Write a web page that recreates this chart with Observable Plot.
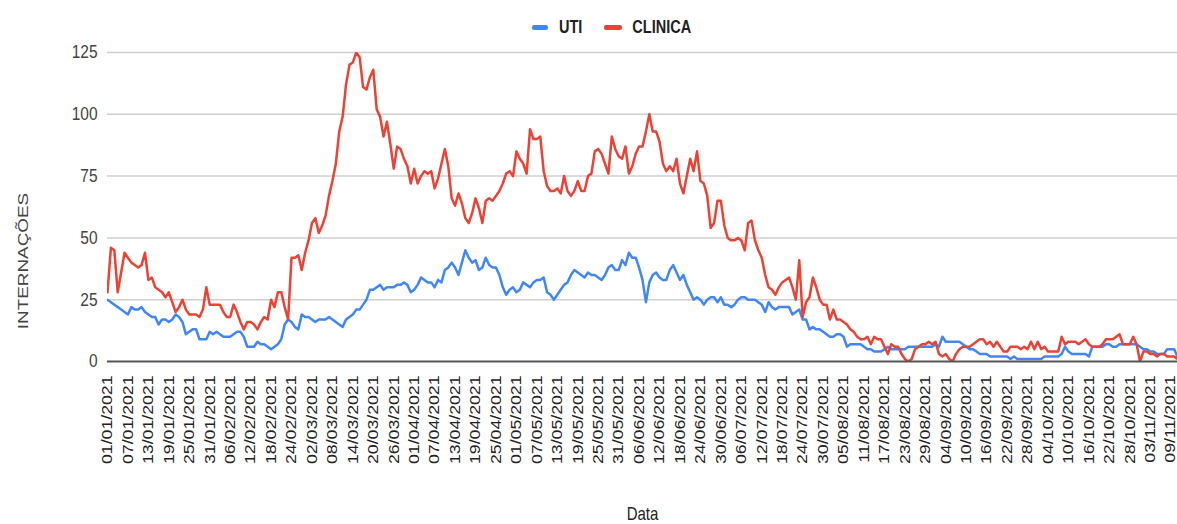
<!DOCTYPE html>
<html><head><meta charset="utf-8">
<script src="https://cdn.jsdelivr.net/npm/d3@7"></script>
<script src="https://cdn.jsdelivr.net/npm/@observablehq/plot@0.6"></script>
<style>
body{margin:0;background:#fff;font-family:"Liberation Sans",Arial,sans-serif;}
#wrap{position:relative;width:1177px;height:524px;overflow:hidden;background:#fff;}
#chart{position:absolute;left:0;top:0;}
#legend{position:absolute;left:532px;top:19px;display:flex;align-items:center;font-weight:bold;font-size:14.5px;color:#222;z-index:2;}
#legend .sw{display:inline-block;height:5px;border-radius:2px;}
#legend .lab{display:inline-block;transform:scaleY(1.25);line-height:16px;}
</style></head><body>
<div id="wrap"><div id="chart"></div><div id="legend"></div></div>
<script>
const startDate = "2021-01-01";
const seriesNames = ["UTI", "CLINICA"];
const seriesColors = ["#4285F4", "#EA4335"];
const yTicks = [0, 25, 50, 75, 100, 125];
const tickLabels = [
  "01/01/2021","07/01/2021","13/01/2021","19/01/2021","25/01/2021","31/01/2021",
  "06/02/2021","12/02/2021","18/02/2021","24/02/2021",
  "02/03/2021","08/03/2021","14/03/2021","20/03/2021","26/03/2021",
  "01/04/2021","07/04/2021","13/04/2021","19/04/2021","25/04/2021",
  "01/05/2021","07/05/2021","13/05/2021","19/05/2021","25/05/2021","31/05/2021",
  "06/06/2021","12/06/2021","18/06/2021","24/06/2021","30/06/2021",
  "06/07/2021","12/07/2021","18/07/2021","24/07/2021","30/07/2021",
  "05/08/2021","11/08/2021","17/08/2021","23/08/2021","29/08/2021",
  "04/09/2021","10/09/2021","16/09/2021","22/09/2021","28/09/2021",
  "04/10/2021","10/10/2021","16/10/2021","22/10/2021","28/10/2021",
  "03/11/2021","09/11/2021"
];
// daily values from 01/01/2021
const utiValues = [
  25,24,23,22,21,20,19,22,21,21,
  22,20,19,18,18,15,17,17,16,17,
  19,18,16,11,12,13,13,9,9,9,
  12,11,12,11,10,10,10,11,12,12,
  10,6,6,6,8,7,7,6,5,6,
  7,9,15,17,16,14,13,19,18,18,
  17,16,17,17,17,18,17,16,15,14,
  17,18,19,21,21,23,25,29,29,30,
  31,29,30,30,30,31,31,32,31,28,
  29,31,34,33,32,32,30,33,32,37,
  38,40,38,35,40,45,42,40,41,37,
  38,42,39,38,38,35,30,27,29,30,
  28,29,32,31,30,32,33,33,34,28,
  27,25,27,29,31,32,35,37,36,35,
  34,36,35,35,34,33,35,38,39,37,
  37,41,39,44,42,42,38,33,24,32,
  35,36,34,33,33,37,39,36,33,35,
  31,28,25,26,25,23,25,26,26,24,
  26,23,23,22,23,25,26,26,25,25,
  25,24,23,20,24,22,21,22,22,22,
  22,19,20,21,17,17,13,14,13,13,
  12,11,10,10,11,11,10,6,7,7,
  7,7,6,5,5,4,4,4,5,6,
  5,5,5,5,5,6,6,6,6,6,
  6,6,6,7,6,10,8,8,8,8,
  8,7,6,5,5,4,3,3,3,2,
  2,2,2,2,2,1,2,1,1,1,
  1,1,1,1,1,2,2,2,2,2,
  3,6,4,3,3,3,3,3,2,6,
  6,6,6,7,7,6,6,7,7,7,
  7,7,7,6,5,5,4,4,3,3,
  3,5,5,5,2
];
const clinicaValues = [
  28,46,45,28,36,44,42,40,39,38,
  39,44,33,34,30,29,28,26,28,24,
  20,22,25,21,19,19,19,18,21,30,
  23,23,23,23,20,18,18,23,20,16,
  13,16,16,15,13,16,18,17,25,22,
  28,28,22,17,42,42,43,37,44,49,
  56,58,52,55,59,67,73,80,93,99,
  112,120,121,125,123,111,110,115,118,102,
  99,91,97,88,78,87,86,82,79,72,
  78,72,75,77,76,77,70,74,80,86,
  79,66,63,68,64,58,56,60,66,62,
  56,65,66,65,67,69,72,76,77,75,
  85,82,80,76,94,90,90,91,77,71,
  69,69,70,68,75,69,67,69,73,69,
  69,75,76,85,86,84,80,76,91,86,
  83,82,87,76,79,84,87,87,93,100,
  93,93,89,80,77,79,77,82,72,68,
  75,82,77,85,73,72,67,54,56,65,
  65,55,50,49,49,50,49,45,56,57,
  49,45,42,35,30,29,27,30,32,33,
  34,30,25,41,18,24,26,34,30,25,
  23,23,17,21,17,17,16,15,13,12,
  10,9,9,10,7,10,9,9,6,3,
  7,6,6,3,1,0,1,5,6,7,
  7,8,7,8,3,2,3,1,0,3,
  5,6,6,6,7,8,9,9,7,8,
  6,8,6,4,4,6,6,6,5,6,
  5,8,5,8,5,6,4,4,4,4,
  10,7,8,8,8,7,8,9,7,6,
  6,6,7,9,9,9,10,11,7,7,
  7,10,7,0,4,4,3,3,2,3,
  3,2,2,2,1
];

const t0 = d3.utcParse("%Y-%m-%d")(startDate);
const parseTick = d3.utcParse("%d/%m/%Y");
const fmtTick = d3.utcFormat("%d/%m/%Y");
const tickDates = tickLabels.map(parseTick);
const rows = [];
[utiValues, clinicaValues].forEach((vals, s) => {
  vals.forEach((v, i) => rows.push({date: d3.utcDay.offset(t0, i), value: v, serie: seriesNames[s]}));
});
const font = "Liberation Sans, Arial, sans-serif";

const chart = Plot.plot({
  width: 1177, height: 524,
  marginLeft: 107, marginRight: 0, marginTop: 52, marginBottom: 163,
  style: {fontFamily: font, background: "#fff", overflow: "visible"},
  x: {type: "utc", domain: [t0, d3.utcDay.offset(t0, 314)]},
  y: {domain: [0, 125]},
  color: {domain: seriesNames, range: seriesColors},
  marks: [
    Plot.ruleY(yTicks.filter(d => d > 0), {stroke: "#cfcfcf", strokeWidth: 1.5}),
    Plot.axisY({ticks: yTicks, tickSize: 0, tickPadding: 10, fontSize: 15.5, color: "#444",
      label: "INTERNAÇÕES", labelAnchor: "center", labelOffset: 91, labelArrow: "none"}),
    Plot.axisX({ticks: tickDates, tickFormat: fmtTick, tickRotate: -90, tickSize: 0, tickPadding: 14,
      fontSize: 15, color: "#222", label: "Data", labelAnchor: "center", labelOffset: 158, labelArrow: "none"}),
    Plot.lineY(rows, {x: "date", y: "value", z: "serie", stroke: "serie", strokeWidth: 2.5, clip: true}),
    Plot.ruleY([0], {stroke: "#555", strokeWidth: 2})
  ]
});
document.getElementById("chart").appendChild(chart);

const sel = d3.select(chart);
sel.selectAll('g[aria-label="x-axis tick label"] text').attr("transform", function() { return (this.getAttribute("transform") || "") + " scale(1.18,1)"; });
sel.selectAll('g[aria-label="y-axis tick label"] text').attr("transform", function() { return (this.getAttribute("transform") || "") + " scale(1,1.2)"; });
sel.selectAll('g[aria-label="y-axis label"] text').attr("transform", function() { return "translate(0,54) " + (this.getAttribute("transform") || "") + " scale(1.22,1)"; });
sel.selectAll('g[aria-label="x-axis label"] text').attr("transform", function() { return (this.getAttribute("transform") || "") + " scale(1,1.25)"; });

// legend
const legend = document.getElementById("legend");
const gaps = [[0, 11, 22], [0, 10, 0]];
seriesNames.forEach((name, i) => {
  const sw = document.createElement("span");
  sw.className = "sw";
  sw.style.background = seriesColors[i];
  sw.style.width = (i === 0 ? 16 : 18) + "px";
  sw.style.marginRight = gaps[i][1] + "px";
  const lab = document.createElement("span");
  lab.className = "lab";
  lab.textContent = name;
  lab.style.marginRight = gaps[i][2] + "px";
  legend.appendChild(sw);
  legend.appendChild(lab);
});
</script>
</body></html>
